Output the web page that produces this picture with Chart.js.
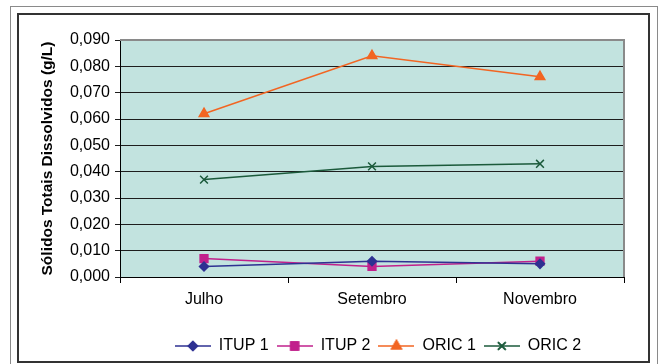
<!DOCTYPE html>
<html>
<head>
<meta charset="utf-8">
<script src="https://cdn.jsdelivr.net/npm/chart.js@4.4.1/dist/chart.umd.min.js"></script>
<style>
  html, body { margin: 0; padding: 0; background: #fff; }
  #wrap { position: relative; width: 663px; height: 364px; overflow: hidden; }
  #outer { position: absolute; left: 10px; top: 6px; width: 648px; height: 400px; border: 1px solid #8a8a8a; box-sizing: border-box; }
  #inner { position: absolute; left: 17px; top: 13px; width: 633px; height: 350px; border: 2px solid #333; box-sizing: border-box; }
  canvas { position: absolute; left: 0; top: 0; }
</style>
</head>
<body>
<div id="wrap">
  <div id="outer"></div>
  <div id="inner"></div>
  <canvas id="chart" width="663" height="364"></canvas>
</div>
<script>
// months on the x axis
const months = ['Julho', 'Setembro', 'Novembro'];

// dissolved solids, g/L
const itup1 = [0.004, 0.006, 0.005];
const itup2 = [0.007, 0.004, 0.006];
const oric1 = [0.062, 0.084, 0.076];
const oric2 = [0.037, 0.042, 0.043];

const yTicks = [0, 0.01, 0.02, 0.03, 0.04, 0.05, 0.06, 0.07, 0.08, 0.09];

const colors = {
  itup1: '#2e3192',
  itup2: '#c1208c',
  oric1: '#f26522',
  oric2: '#1b5a3b',
  plotBg: '#c2e3df',
  grid: '#1e1e1e',
  frame: '#8a8a8a'
};

Chart.defaults.font.family = "'Liberation Sans', Arial, sans-serif";
Chart.defaults.color = '#000';

// little line+marker swatch for the legend
function swatch(color, style, radius) {
  const c = document.createElement('canvas');
  c.width = 36; c.height = 14;
  const ctx = c.getContext('2d');
  ctx.strokeStyle = color;
  ctx.lineWidth = 1.5;
  ctx.beginPath();
  ctx.moveTo(0, 7); ctx.lineTo(36, 7);
  ctx.stroke();
  ctx.fillStyle = color;
  Chart.helpers.drawPoint(ctx, { pointStyle: style, rotation: 0, radius: radius, borderWidth: 1.5 }, 18, 7);
  ctx.fill();
  ctx.stroke();
  return c;
}

const plotBg = {
  id: 'plotBg',
  beforeDraw(chart) {
    const a = chart.chartArea, ctx = chart.ctx;
    ctx.save();
    ctx.fillStyle = colors.plotBg;
    ctx.fillRect(a.left, a.top, a.right - a.left, a.bottom - a.top);
    ctx.restore();
    // legend sits a bit right of centre, as in the original
    if (!chart.legend._shifted) {
      chart.legend.left += 66;
      chart.legend.right += 66;
      chart.legend._shifted = true;
    }
  },
  beforeDatasetsDraw(chart) {
    const a = chart.chartArea, ctx = chart.ctx;
    ctx.save();
    ctx.strokeStyle = colors.frame;
    ctx.lineWidth = 2;
    ctx.beginPath();
    ctx.moveTo(a.left, a.top);
    ctx.lineTo(a.right, a.top);
    ctx.lineTo(a.right, a.bottom);
    ctx.stroke();
    ctx.restore();
  }
};

function series(label, data, color, style, radius) {
  return {
    label: label,
    data: data,
    borderColor: color,
    backgroundColor: color,
    borderWidth: 1.5,
    pointStyle: style,
    pointRadius: radius,
    pointBorderWidth: 1.5,
    pointBackgroundColor: color,
    pointBorderColor: color,
    tension: 0,
    swatch: swatch(color, style, radius)
  };
}

const datasets = [
  series('ITUP 1', itup1, colors.itup1, 'rectRot', 4.5),
  series('ITUP 2', itup2, colors.itup2, 'rect', 5.5),
  series('ORIC 1', oric1, colors.oric1, 'triangle', 5.5),
  series('ORIC 2', oric2, colors.oric2, 'crossRot', 5.5)
];

new Chart(document.getElementById('chart'), {
  type: 'line',
  data: { labels: months, datasets: datasets },
  plugins: [plotBg],
  options: {
    responsive: false,
    animation: false,
    layout: { padding: { left: 0, right: 39, top: 40, bottom: 0 } },
    plugins: {
      tooltip: { enabled: false },
      legend: {
        position: 'bottom',
        labels: {
          usePointStyle: true,
          pointStyleWidth: 36,
          boxHeight: 14,
          padding: 8,
          font: { size: 16 },
          color: '#000',
          generateLabels: chart => chart.data.datasets.map((d, i) => ({
            text: d.label,
            pointStyle: d.swatch,
            fillStyle: d.borderColor,
            strokeStyle: d.borderColor,
            lineWidth: 0,
            datasetIndex: i,
            hidden: false
          }))
        }
      }
    },
    scales: {
      x: {
        offset: true,
        afterFit: s => { s.height = 53; },
        grid: { offset: true, drawOnChartArea: false, drawTicks: true, tickLength: 6, color: '#000' },
        border: { color: '#000', width: 1 },
        ticks: { padding: 7, font: { size: 16 }, color: '#000' }
      },
      y: {
        min: 0,
        max: 0.09,
        afterFit: s => { s.width = 120; },
        afterBuildTicks: s => { s.ticks = yTicks.map(v => ({ value: v })); },
        grid: { color: colors.grid, tickLength: 5, lineWidth: 1 },
        border: { color: '#000', width: 1 },
        ticks: {
          padding: 5,
          font: { size: 16 },
          color: '#000',
          callback: v => v.toFixed(3).replace('.', ',')
        },
        title: {
          display: true,
          text: 'Sólidos Totais Dissolvidos (g/L)',
          font: { size: 15.5, weight: 'bold' },
          color: '#000',
          padding: { top: 38, bottom: 0 }
        }
      }
    }
  }
});
</script>
</body>
</html>
